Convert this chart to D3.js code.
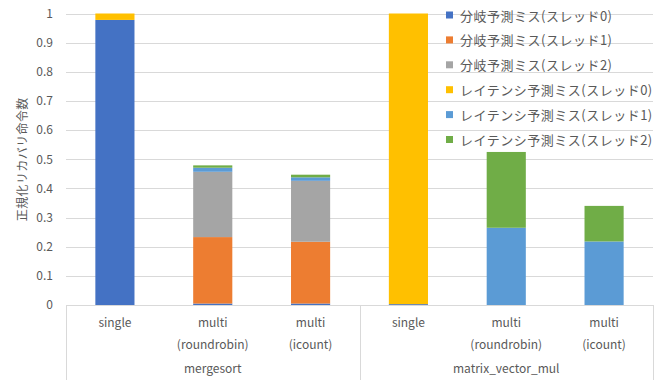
<!DOCTYPE html>
<html>
<head>
<meta charset="utf-8">
<script src="https://cdn.jsdelivr.net/npm/d3@7/dist/d3.min.js"></script>
<style>
  html, body { margin: 0; padding: 0; background: #fff; }
  svg { display: block; }
  text { font-family: "Noto Sans CJK JP", "Noto Sans", sans-serif; fill: #595959; }
</style>
</head>
<body>
<svg id="chart" width="662" height="380"></svg>
<script>
// Workloads and their configurations (two-level category axis)
const groups = ["mergesort", "matrix_vector_mul"];
const configs = ["single", "multi\n(roundrobin)", "multi\n(icount)"];

// Stacked series, in drawing order from the baseline up
const seriesNames = [
  "分岐予測ミス(スレッド0)",
  "分岐予測ミス(スレッド1)",
  "分岐予測ミス(スレッド2)",
  "レイテンシ予測ミス(スレッド0)",
  "レイテンシ予測ミス(スレッド1)",
  "レイテンシ予測ミス(スレッド2)"
];
const seriesColors = ["#4472C4", "#ED7D31", "#A5A5A5", "#FFC000", "#5B9BD5", "#70AD47"];

// One array per series; six entries: mergesort x3, matrix_vector_mul x3
const branch0  = [0.978, 0.005, 0.005, 0.003, 0.000, 0.000];
const branch1  = [0.000, 0.228, 0.212, 0.000, 0.000, 0.000];
const branch2  = [0.000, 0.224, 0.209, 0.000, 0.000, 0.000];
const latency0 = [0.022, 0.000, 0.000, 0.997, 0.000, 0.000];
const latency1 = [0.000, 0.014, 0.012, 0.000, 0.265, 0.218];
const latency2 = [0.000, 0.008, 0.009, 0.000, 0.260, 0.122];

const yTicks = [0, 0.1, 0.2, 0.3, 0.4, 0.5, 0.6, 0.7, 0.8, 0.9, 1];
const yTitle = "正規化リカバリ命令数";

const seriesValues = [branch0, branch1, branch2, latency0, latency1, latency2];

// Flatten into rows for d3.stack
const rows = [];
groups.forEach((g, gi) => {
  configs.forEach((c, ci) => {
    const i = gi * configs.length + ci;
    const row = { key: g + "|" + c, group: g, config: c };
    seriesNames.forEach((s, si) => { row[s] = seriesValues[si][i]; });
    rows.push(row);
  });
});

const svg = d3.select("#chart");
const plot = { left: 66, right: 653, top: 13.5, bottom: 305 };

const x = d3.scaleBand()
  .domain(rows.map(d => d.key))
  .range([plot.left, plot.right])
  .paddingInner(0.6)
  .paddingOuter(0.3);

const y = d3.scaleLinear().domain([0, 1]).range([plot.bottom, plot.top]);

// Gridlines
svg.append("g")
  .selectAll("line")
  .data(yTicks)
  .join("line")
  .attr("x1", plot.left).attr("x2", plot.right)
  .attr("y1", d => Math.round(y(d)) + 0.5).attr("y2", d => Math.round(y(d)) + 0.5)
  .attr("stroke", "#d9d9d9").attr("stroke-width", 1);

// Y axis labels
const yAxis = d3.axisLeft(y).tickValues(yTicks).tickSize(0).tickPadding(0)
  .tickFormat(d => d3.format("~g")(d));
const yg = svg.append("g").attr("transform", `translate(${plot.left - 13},0)`).call(yAxis);
yg.select(".domain").remove();
yg.selectAll("text")
  .attr("font-size", 12)
  .attr("font-family", "'Noto Sans CJK JP', sans-serif")
  .attr("fill", "#595959");

// Y axis title
svg.append("text")
  .attr("transform", `translate(21,${(plot.top + plot.bottom) / 2}) rotate(-90)`)
  .attr("text-anchor", "middle")
  .attr("dominant-baseline", "central")
  .attr("font-size", 12)
  .attr("letter-spacing", 0.4)
  .text(yTitle);

// Stacked bars
const stack = d3.stack().keys(seriesNames);
const stacked = stack(rows);

svg.append("g")
  .selectAll("g")
  .data(stacked)
  .join("g")
  .attr("fill", (d, i) => seriesColors[i])
  .selectAll("rect")
  .data(d => d)
  .join("rect")
  .attr("x", d => x(d.data.key))
  .attr("width", x.bandwidth())
  .attr("y", d => y(d[1]))
  .attr("height", d => Math.max(0, y(d[0]) - y(d[1])));

// Category axis frame
const axisG = svg.append("g");
axisG.append("line")
  .attr("x1", plot.left).attr("x2", plot.right)
  .attr("y1", plot.bottom + 0.5).attr("y2", plot.bottom + 0.5)
  .attr("stroke", "#d9d9d9");
const groupEdges = [0, configs.length, rows.length].map(i =>
  i < rows.length ? x(rows[i].key) - x.step() * x.paddingInner() / 2 - (i === 0 ? x.step() * (x.paddingOuter() - x.paddingInner() / 2) : 0)
                  : plot.right);
axisG.selectAll("line.sep")
  .data(groupEdges)
  .join("line")
  .attr("class", "sep")
  .attr("x1", d => Math.round(d) + 0.5).attr("x2", d => Math.round(d) + 0.5)
  .attr("y1", plot.bottom).attr("y2", 380)
  .attr("stroke", "#d9d9d9");

// Configuration labels (may span two lines)
const catLabels = axisG.selectAll("text.cat")
  .data(rows)
  .join("text")
  .attr("class", "cat")
  .attr("text-anchor", "middle")
  .attr("font-size", 12)
  .attr("transform", d => `translate(${x(d.key) + x.bandwidth() / 2},327)`);
catLabels.selectAll("tspan")
  .data(d => d.config.split("\n"))
  .join("tspan")
  .attr("x", 0)
  .attr("y", (d, i) => i * 22)
  .text(d => d);

// Group labels
axisG.selectAll("text.grp")
  .data(groups)
  .join("text")
  .attr("class", "grp")
  .attr("text-anchor", "middle")
  .attr("font-size", 12)
  .attr("x", (g, gi) => (groupEdges[gi] + groupEdges[gi + 1]) / 2)
  .attr("y", 373)
  .text(d => d);

// Legend
const legend = svg.append("g").attr("transform", "translate(446,15)");
const li = legend.selectAll("g")
  .data(seriesNames)
  .join("g")
  .attr("transform", (d, i) => `translate(0,${i * 24.9})`);
li.append("rect")
  .attr("x", 0).attr("y", -3.5)
  .attr("width", 7).attr("height", 7)
  .attr("fill", (d, i) => seriesColors[i]);
li.append("text")
  .attr("x", 14)
  .attr("y", 0)
  .attr("dominant-baseline", "central")
  .attr("font-size", 13)
  .attr("letter-spacing", 0.5)
  .text(d => d);
</script>
</body>
</html>
